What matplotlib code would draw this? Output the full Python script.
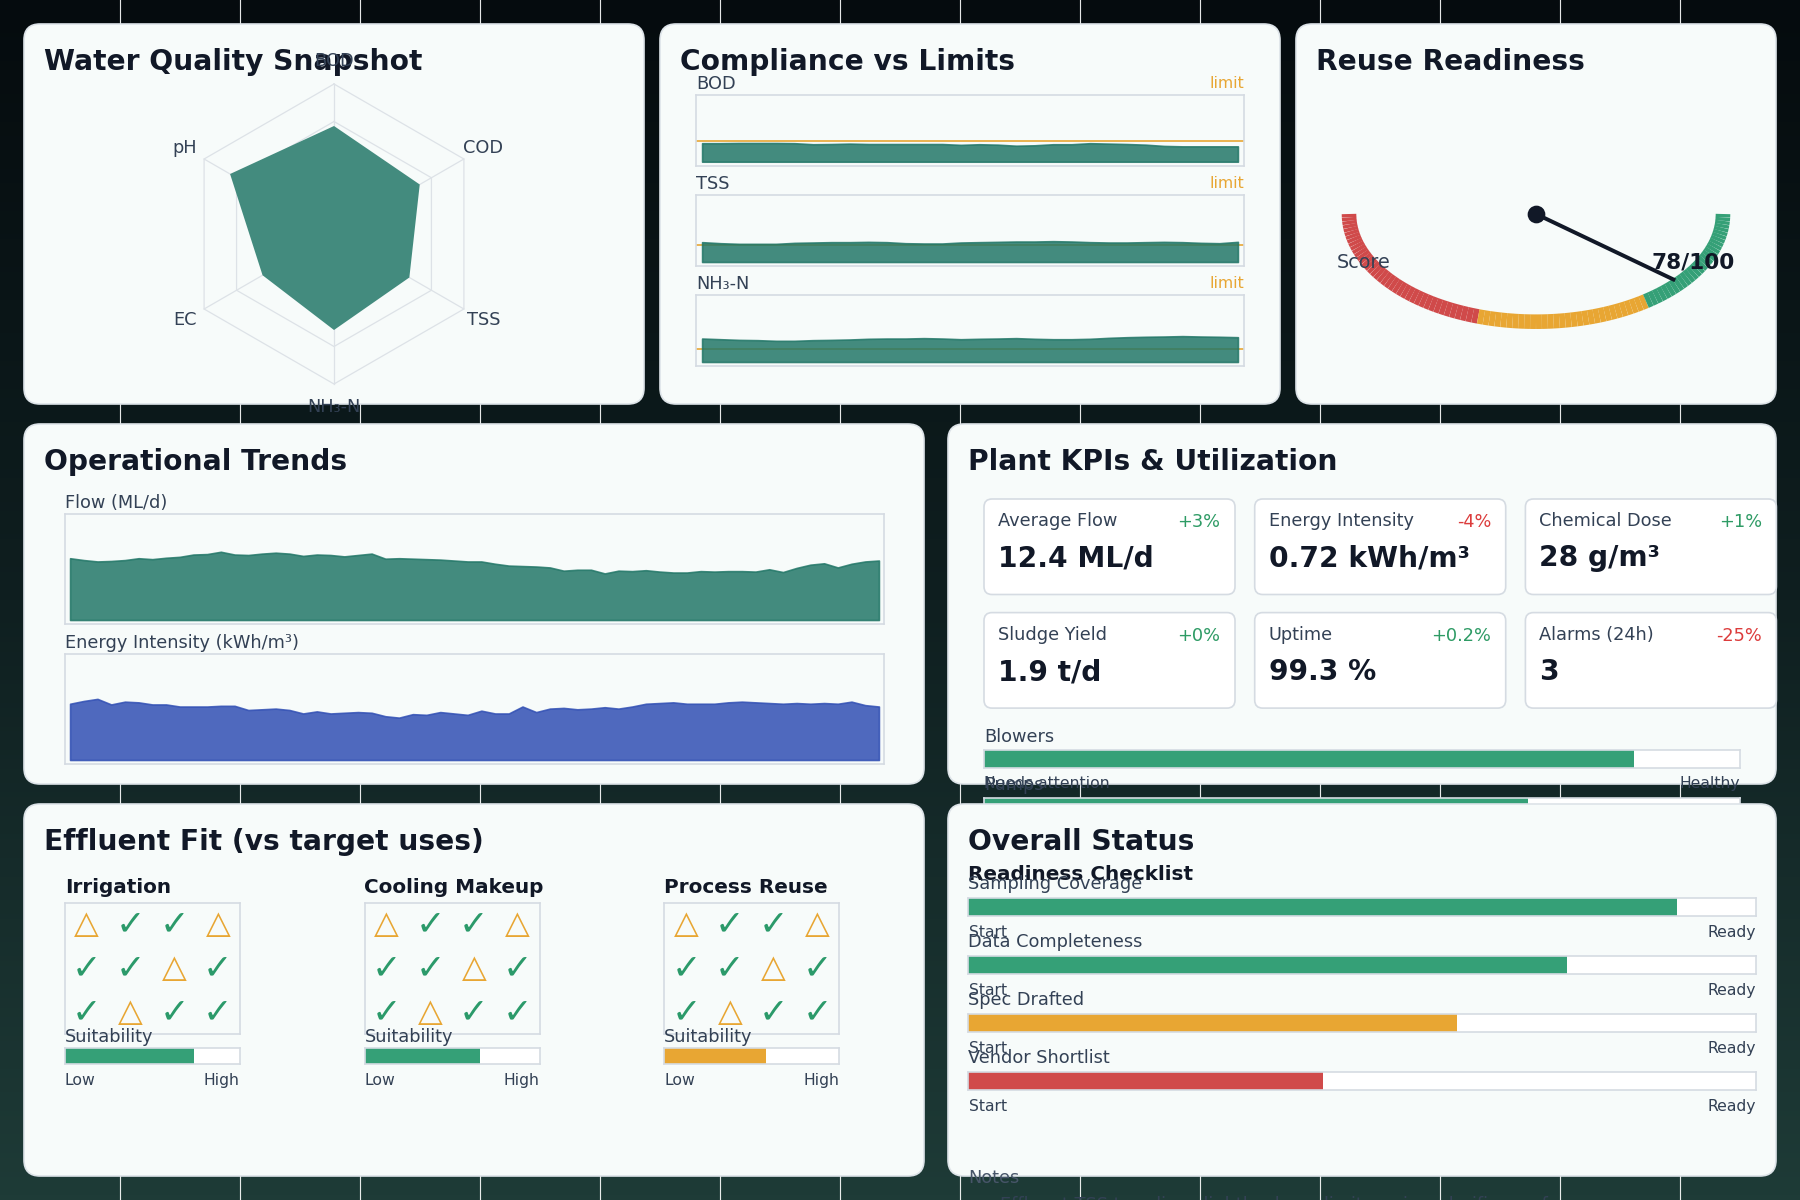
import numpy as np
import matplotlib.pyplot as plt
from matplotlib.patches import FancyBboxPatch
from matplotlib.collections import LineCollection
from matplotlib.colors import LinearSegmentedColormap

W, H = 1800, 1200
CARD = '#f7fbfa'
INK = '#111827'
SLATE = '#334155'
LINE = '#d5dbe2'
TEAL = '#237768'
BLUE = '#3250b4'
GREEN = '#35a077'
AMBER = '#e8a633'
RED = '#d04a4a'
UP = '#2e9b65'
DOWN = '#dc3c3c'

# ---- data
radar_axes = ['BOD', 'COD', 'TSS', 'NH₃-N', 'EC', 'pH']
radar_scores = [0.72, 0.66, 0.58, 0.64, 0.55, 0.80]

comp_names = ['BOD', 'TSS', 'NH₃-N']
comp_limits = [10, 30, 1.0]
bod = [8.8, 8.8, 8.9, 8.9, 8.9, 8.8, 8.3, 8.4, 8.6, 8.4, 8.4, 8.4, 8.4, 8.4, 8.0,
       8.3, 8.1, 7.6, 7.8, 8.3, 8.3, 8.8, 8.6, 8.4, 8.1, 7.5, 7.3, 7.3, 7.3, 7.3]
tss = [34.0, 32.2, 31.1, 31.1, 31.1, 32.8, 33.4, 34.0, 34.0, 34.5, 34.0, 32.2, 31.7, 31.7, 33.4,
       34.0, 34.5, 35.1, 35.1, 35.7, 35.1, 34.0, 33.4, 33.4, 34.0, 34.5, 34.0, 32.8, 32.2, 34.5]
nh3 = [1.74, 1.69, 1.64, 1.62, 1.57, 1.57, 1.62, 1.64, 1.67, 1.72, 1.74, 1.74, 1.77, 1.74, 1.69,
       1.72, 1.74, 1.77, 1.72, 1.69, 1.69, 1.72, 1.79, 1.84, 1.87, 1.89, 1.92, 1.89, 1.87, 1.84]

flow = [13.4, 13.0, 12.7, 12.8, 13.0, 13.4, 13.2, 13.5, 13.7, 14.2, 14.3, 14.8, 14.2, 14.1, 14.4,
        14.6, 14.4, 13.9, 14.2, 14.1, 13.8, 14.1, 14.4, 13.3, 13.4, 13.3, 13.2, 13.1, 12.9, 12.7,
        12.7, 12.2, 11.8, 11.7, 11.6, 11.4, 10.7, 10.9, 10.9, 10.1, 10.7, 10.6, 10.8, 10.5, 10.3,
        10.3, 10.6, 10.5, 10.6, 10.6, 10.5, 11.0, 10.4, 11.3, 12.0, 12.3, 11.4, 12.2, 12.7, 12.9]
energy = [0.81, 0.85, 0.88, 0.80, 0.84, 0.83, 0.80, 0.80, 0.77, 0.77, 0.77, 0.78, 0.78, 0.72, 0.73,
          0.74, 0.72, 0.67, 0.70, 0.67, 0.68, 0.69, 0.68, 0.63, 0.61, 0.66, 0.65, 0.69, 0.67, 0.65,
          0.71, 0.67, 0.67, 0.77, 0.69, 0.74, 0.75, 0.73, 0.74, 0.76, 0.74, 0.77, 0.81, 0.82, 0.83,
          0.81, 0.81, 0.81, 0.83, 0.84, 0.83, 0.82, 0.81, 0.82, 0.81, 0.82, 0.81, 0.84, 0.79, 0.77]

readiness_score = 78
band_edges = [0, 40, 70, 100]
band_colors = [RED, AMBER, GREEN]

kpi_labels = ['Average Flow', 'Energy Intensity', 'Chemical Dose', 'Sludge Yield', 'Uptime', 'Alarms (24h)']
kpi_values = ['12.4 ML/d', '0.72 kWh/m³', '28 g/m³', '1.9 t/d', '99.3 %', '3']
kpi_changes = ['+3%', '-4%', '+1%', '+0%', '+0.2%', '-25%']

util_names = ['Blowers', 'Pumps']
util_values = [0.86, 0.72]

fit_uses = ['Irrigation', 'Cooling Makeup', 'Process Reuse']
fit_grids = [[[0, 1, 1, 0], [1, 1, 0, 1], [1, 0, 1, 1]],
             [[0, 1, 1, 0], [1, 1, 0, 1], [1, 0, 1, 1]],
             [[0, 1, 1, 0], [1, 1, 0, 1], [1, 0, 1, 1]]]
fit_scores = [0.74, 0.66, 0.58]
fit_colors = [GREEN, GREEN, AMBER]

check_items = ['Sampling Coverage', 'Data Completeness', 'Spec Drafted', 'Vendor Shortlist']
check_values = [0.90, 0.76, 0.62, 0.45]
check_colors = [GREEN, GREEN, AMBER, RED]


def px(x0, y0, x1, y1):
    return [x0 / W, 1 - y1 / H, (x1 - x0) / W, (y1 - y0) / H]


def layer(name):
    ax = fig.add_axes([0, 0, 1, 1], label=name)
    ax.set_xlim(0, W)
    ax.set_ylim(H, 0)
    ax.axis('off')
    return ax


def card(name, x0, y0, x1, y1, title):
    ax = layer(name)
    ax.add_patch(FancyBboxPatch((x0, y0), x1 - x0, y1 - y0,
                                boxstyle='round,pad=0,rounding_size=16',
                                fc=CARD, ec='#dde3e8', lw=0.8))
    ax.text(x0 + 20.5, y0 + 46, title, fontsize=13.5, fontweight='bold',
            color=INK, va='baseline')
    return ax


def frame(ax, face=CARD):
    ax.set_xticks([])
    ax.set_yticks([])
    ax.set_facecolor(face)
    for s in ax.spines.values():
        s.set_color(LINE)
        s.set_linewidth(0.8)


def bar(x0, y0, x1, y1, frac, color):
    ax = fig.add_axes(px(x0, y0, x1, y1))
    ax.barh(0, frac, height=1, color=color, lw=0)
    ax.set_xlim(0, 1)
    ax.set_ylim(-0.5, 0.5)
    frame(ax, 'white')
    return ax


fig = plt.figure(figsize=(12, 8), dpi=150)

# background gradient + vertical guides
bg = fig.add_axes([0, 0, 1, 1], label='bg')
cmap = LinearSegmentedColormap.from_list('bgc', ['#050b0e', '#0f1f20', '#1e3b37'])
bg.imshow(np.linspace(0, 1, 256)[:, None], aspect='auto', cmap=cmap, extent=[0, W, H, 0])
for x in range(120, W, 120):
    bg.axvline(x, color='white', lw=0.55, alpha=0.9)
bg.set_xlim(0, W)
bg.set_ylim(H, 0)
bg.axis('off')

# ---- card 1: radar
lay = card('c1', 24, 24, 644, 404, 'Water Quality Snapshot')
R, cx, cy = 150, 334, 234
axr = fig.add_axes(px(cx - 200, cy - 200, cx + 200, cy + 200))
axr.set_xlim(-200 / R, 200 / R)
axr.set_ylim(-200 / R, 200 / R)
axr.axis('off')
ang = np.pi / 2 - np.arange(len(radar_axes)) * 2 * np.pi / len(radar_axes)
ring = np.r_[ang, ang[0]]
for lv in (0.25, 0.5, 0.75, 1.0):
    axr.plot(lv * np.cos(ring), lv * np.sin(ring), color='#dde2e7', lw=0.6, zorder=1)
for a in ang:
    axr.plot([0, np.cos(a)], [0, np.sin(a)], color='#dde2e7', lw=0.6, zorder=1)
vals = np.array(radar_scores)
axr.fill(vals * np.cos(ang), vals * np.sin(ang), color='#438b7e', lw=0, zorder=2)
for name, a in zip(radar_axes, ang):
    axr.text(1.15 * np.cos(a), 1.15 * np.sin(a), name, ha='center', va='center',
             fontsize=8.5, color=SLATE)

# ---- card 2: compliance
lay = card('c2', 660, 24, 1280, 404, 'Compliance vs Limits')
ylims = [(-2.05, 31.9), (-6.9, 115.5), (-0.30, 5.0)]
for i, (name, vals, lim, yl) in enumerate(zip(comp_names, [bod, tss, nh3], comp_limits, ylims)):
    top = 94.7 + 100 * i
    ax = fig.add_axes(px(696, top, 1244, top + 71.3))
    x = np.arange(len(vals))
    ax.axhline(lim, color=AMBER, lw=0.8, zorder=1)
    ax.fill_between(x, vals, color=TEAL, alpha=0.85, lw=0.8, zorder=2)
    ax.set_xlim(-0.33, len(vals) - 1 + 0.33)
    ax.set_ylim(*yl)
    frame(ax)
    lay.text(696, top - 6, name, fontsize=8.5, color=SLATE, va='baseline')
    lay.text(1244, top - 7, 'limit', fontsize=7.5, color=AMBER, ha='right', va='baseline')

# ---- card 3: gauge
lay = card('c3', 1296, 24, 1776, 404, 'Reuse Readiness')
gx, gy, ga, gb = 1536, 214, 187, 107.7
axg = fig.add_axes(px(gx - 1.2 * ga, gy - 0.5 * gb, gx + 1.2 * ga, gy + 1.3 * gb))
axg.set_xlim(-1.2, 1.2)
axg.set_ylim(-1.3, 0.5)
axg.axis('off')
for lo, hi, col in zip(band_edges[:-1], band_edges[1:], band_colors):
    t = np.pi + np.linspace(lo, hi, (hi - lo) + 1) / 100 * np.pi
    pts = np.column_stack([np.cos(t), np.sin(t)])
    segs = np.stack([pts[:-1], pts[1:]], axis=1)
    axg.add_collection(LineCollection(segs, colors=col, linewidths=7.0, capstyle='butt'))
tn = np.pi + readiness_score / 100 * np.pi
axg.plot([0, 0.966 * np.cos(tn)], [0, 0.966 * np.sin(tn)], color=INK, lw=1.9,
         solid_capstyle='butt', zorder=4)
axg.plot(0, 0, 'o', color=INK, ms=7.5, zorder=5)
axg.text(1337, 262, 'Score', transform=lay.transData, fontsize=9.2, color=SLATE,
         va='center', zorder=6)
axg.text(1735, 262, f'{readiness_score}/100', transform=lay.transData, fontsize=10.4,
         fontweight='bold', color=INK, ha='right', va='center', zorder=6)

# ---- card 4: trends
lay = card('c4', 24, 424, 924, 784, 'Operational Trends')
for top, name, vals, col, yl in [(514, 'Flow (ML/d)', flow, TEAL, (-0.87, 23.0)),
                                 (654, 'Energy Intensity (kWh/m³)', energy, BLUE, (-0.058, 1.527))]:
    ax = fig.add_axes(px(65, top, 884, top + 110))
    x = np.arange(len(vals))
    ax.fill_between(x, vals, color=col, alpha=0.85, lw=0.8)
    ax.set_xlim(-0.37, len(vals) - 1 + 0.37)
    ax.set_ylim(*yl)
    frame(ax)
    lay.text(65, top - 5.5, name, fontsize=8.5, color=SLATE, va='baseline')

# ---- card 5: KPIs
lay = card('c5', 948, 424, 1776, 784, 'Plant KPIs & Utilization')
for i, (lab, val, chg) in enumerate(zip(kpi_labels, kpi_values, kpi_changes)):
    r, c = divmod(i, 3)
    bx, by = 984 + c * 270.7, 499 + r * 113.6
    lay.add_patch(FancyBboxPatch((bx, by), 251, 95.5, boxstyle='round,pad=0,rounding_size=8',
                                 fc='white', ec=LINE, lw=0.8))
    lay.text(bx + 14, by + 27, lab, fontsize=8.5, color=SLATE, va='baseline')
    lay.text(bx + 236.5, by + 28, chg, fontsize=8.5, ha='right', va='baseline',
             color=DOWN if chg.startswith('-') else UP)
    lay.text(bx + 14, by + 67.5, val, fontsize=13.5, fontweight='bold', color=INK, va='baseline')
for j, (nm, v) in enumerate(zip(util_names, util_values)):
    top = 750 + 48 * j
    lay.text(984, top - 7.5, nm, fontsize=8.5, color=SLATE, va='baseline')
    bar(984, top, 1740, top + 18, v, GREEN)
    lay.text(984, top + 38, 'Needs attention', fontsize=7.5, color=SLATE, va='baseline')
    lay.text(1740, top + 38, 'Healthy', fontsize=7.5, color=SLATE, ha='right', va='baseline')

# ---- card 6: effluent fit
lay = card('c6', 24, 804, 924, 1176, 'Effluent Fit (vs target uses)')
for k, (use, grid, score, col) in enumerate(zip(fit_uses, fit_grids, fit_scores, fit_colors)):
    x0 = 64.7 + 299.8 * k
    lay.text(x0, 893, use, fontsize=9.6, fontweight='bold', color=INK, va='baseline')
    axi = fig.add_axes(px(x0, 903, x0 + 175, 1034))
    axi.set_xlim(0, 4)
    axi.set_ylim(3, 0)
    frame(axi)
    for r, row in enumerate(grid):
        for c, ok in enumerate(row):
            if ok:
                axi.text(c + 0.5, r + 0.5, '✓', ha='center', va='center',
                         fontsize=17, color='#2b9a6a')
            else:
                axi.text(c + 0.5, r + 0.5, '△', ha='center', va='center',
                         fontsize=15.5, fontweight='bold', color=AMBER)
    axb = bar(x0, 1048.3, x0 + 175, 1064, score, col)
    axb.text(x0, 1042.5, 'Suitability', transform=lay.transData, fontsize=8.5, color=SLATE,
             va='baseline')
    lay.text(x0, 1085, 'Low', fontsize=7.5, color=SLATE, va='baseline')
    lay.text(x0 + 175, 1085, 'High', fontsize=7.5, color=SLATE, ha='right', va='baseline')

# ---- card 7: overall status
lay = card('c7', 948, 804, 1776, 1176, 'Overall Status')
lay.text(968.5, 880, 'Readiness Checklist', fontsize=9.6, fontweight='bold', color=INK,
         va='baseline')
for i, (item, v, col) in enumerate(zip(check_items, check_values, check_colors)):
    top = 898 + 58 * i
    lay.text(968.5, top - 9, item, fontsize=8.5, color=SLATE, va='baseline')
    bar(968.5, top, 1756, top + 18, v, col)
    lay.text(968.5, top + 38.7, 'Start', fontsize=7.5, color=SLATE, va='baseline')
    lay.text(1756, top + 38.7, 'Ready', fontsize=7.5, color=SLATE, ha='right', va='baseline')
lay.text(968.5, 1183, 'Notes', fontsize=8.5, color='#475569', va='baseline')
lay.text(984, 1210, '• Effluent TSS trending slightly above limit; review clarifier performance',
         fontsize=8.5, color=SLATE, va='baseline')

fig.savefig('out.png', dpi=150)
